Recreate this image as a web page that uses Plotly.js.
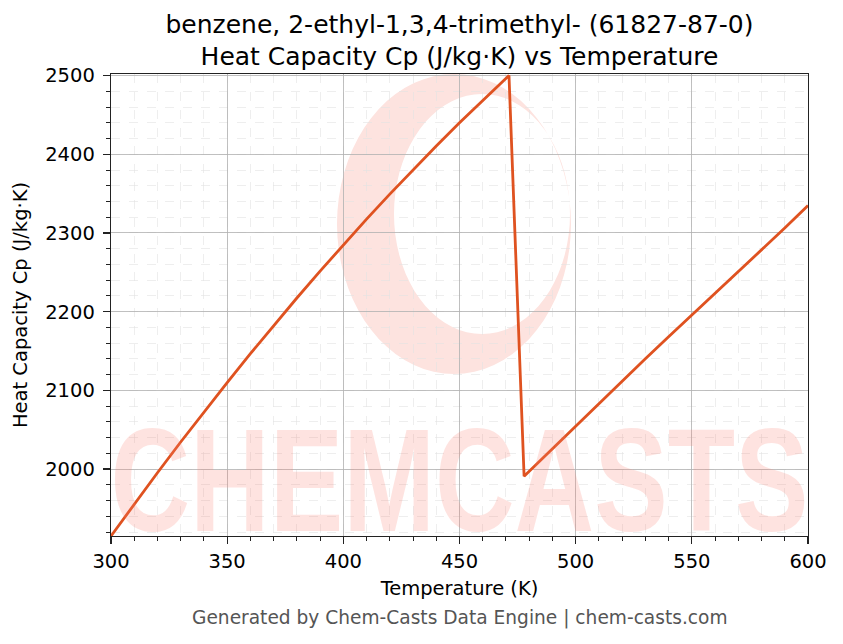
<!DOCTYPE html>
<html>
<head>
<meta charset="utf-8">
<script src="https://cdn.plot.ly/plotly-3.0.1.min.js"></script>
<style>html,body{margin:0;padding:0;background:#fff;}#chart{width:843px;height:644px;}</style>
</head>
<body>
<div id="chart"></div>
<script>
// Data
var temperatureK = [300, 310, 320, 330, 340, 350, 360, 370, 380, 390, 400, 410, 420, 430, 440, 450, 460, 470, 471.3,
                    477.8, 480, 490, 500, 510, 520, 530, 540, 550, 560, 570, 580, 590, 600];
var heatCapacity = [1915, 1955.6, 1995.4, 2034.4, 2072.6, 2110, 2146.6, 2182.4, 2217.4, 2251.6, 2285, 2317.6, 2349.4,
                    2380.4, 2410.6, 2440, 2468.6, 2496.4, 2500,
                    1991, 1997.3, 2026, 2054.9, 2083.7, 2112.2, 2140.3, 2168.1, 2195.8, 2223.2, 2250.5, 2278, 2306.2, 2335];
var xTicks = [300, 350, 400, 450, 500, 550, 600];
var yTicks = [2000, 2100, 2200, 2300, 2400, 2500];

var titleLine1 = "benzene, 2-ethyl-1,3,4-trimethyl- (61827-87-0)";
var titleLine2 = "Heat Capacity Cp (J/kg·K) vs Temperature";
var footer = "Generated by Chem-Casts Data Engine | chem-casts.com";

// plot area geometry (pixels)
var L = 111, R = 808, T = 74, B = 536;
function px(X){ return (X - L) / (R - L); }
function py(Y){ return (B - Y) / (B - T); }
function ellipse(cx, cy, rx, ry, ccw){
  var s = "";
  var n = 72;
  for (var i = 0; i <= n; i++){
    var a = (ccw ? -1 : 1) * 2 * Math.PI * i / n;
    var X = cx + rx * Math.cos(a), Y = cy + ry * Math.sin(a);
    s += (i === 0 ? "M" : "L") + px(X).toFixed(4) + "," + py(Y).toFixed(4);
  }
  return s + "Z";
}
var logoPath = ellipse(454, 224, 117, 150, false) + ellipse(482, 214, 88, 120, true);

var trace = {
  x: temperatureK, y: heatCapacity, type: "scatter", mode: "lines",
  line: {color: "#DF5220", width: 2.8}, hoverinfo: "skip"
};

var axisCommon = {
  showline: true, linecolor: "#222", linewidth: 1.3, mirror: true,
  ticks: "outside", ticklen: 7, tickwidth: 1.3, tickcolor: "#222",
  showgrid: true, gridcolor: "#b0b0b0", gridwidth: 0.8,
  zeroline: false,
  tickfont: {family: "DejaVu Sans", size: 19.5, color: "#000"},
  minor: {ticks: "outside", ticklen: 4, tickwidth: 1, tickcolor: "#222",
          showgrid: true, gridcolor: "#e2e2e2", griddash: "dash", gridwidth: 0.6}
};

var layout = {
  width: 843, height: 644,
  margin: {l: L, r: 843 - R, t: T, b: 644 - B},
  paper_bgcolor: "#fff", plot_bgcolor: "rgba(0,0,0,0)",
  showlegend: false,
  title: {text: titleLine1 + "<br>" + titleLine2, xref: "paper", x: 0.5, xanchor: "center",
          yref: "container", y: 1 - 32.5 / 644, yanchor: "middle",
          font: {family: "DejaVu Sans", size: 25, color: "#000"}},
  xaxis: Object.assign({}, axisCommon, {
    range: [300, 600], tickvals: xTicks, ticktext: xTicks.map(String),
    minor: Object.assign({}, axisCommon.minor, {dtick: 10, tick0: 300}),
    title: {text: "Temperature (K)", standoff: 9, font: {family: "DejaVu Sans", size: 19.5, color: "#000"}}
  }),
  yaxis: Object.assign({}, axisCommon, {
    range: [1915, 2502], tickvals: yTicks, ticktext: yTicks.map(String),
    ticklabelstandoff: 4,
    minor: Object.assign({}, axisCommon.minor, {dtick: 20, tick0: 2000}),
    title: {text: "Heat Capacity Cp (J/kg·K)", standoff: 12, font: {family: "DejaVu Sans", size: 19.5, color: "#000"}}
  }),
  shapes: [
    {type: "path", xref: "paper", yref: "paper", path: logoPath, layer: "below",
     fillcolor: "#fde3df", line: {width: 0}}
  ],
  annotations: [
    {text: "CHEMCASTS", xref: "paper", yref: "paper", x: 0.5, y: -0.06, xanchor: "center", yanchor: "bottom",
     showarrow: false, font: {family: "Liberation Sans", size: 147, color: "rgba(250,128,114,0.22)", weight: "bold"}},
    {text: footer, xref: "paper", yref: "paper", x: 0.5, xanchor: "center", y: -(618 - B) / (B - T), yanchor: "middle",
     showarrow: false, font: {family: "DejaVu Sans", size: 18.6, color: "#555"}}
  ]
};

Plotly.newPlot("chart", [trace], layout, {displayModeBar: false, staticPlot: true}).then(function(){
  var texts = document.querySelectorAll(".annotation-text");
  texts.forEach(function(t){
    if (t.textContent === "CHEMCASTS"){
      t.setAttribute("textLength", "698");
      t.setAttribute("lengthAdjust", "spacingAndGlyphs");
    }
  });
});
</script>
</body>
</html>
